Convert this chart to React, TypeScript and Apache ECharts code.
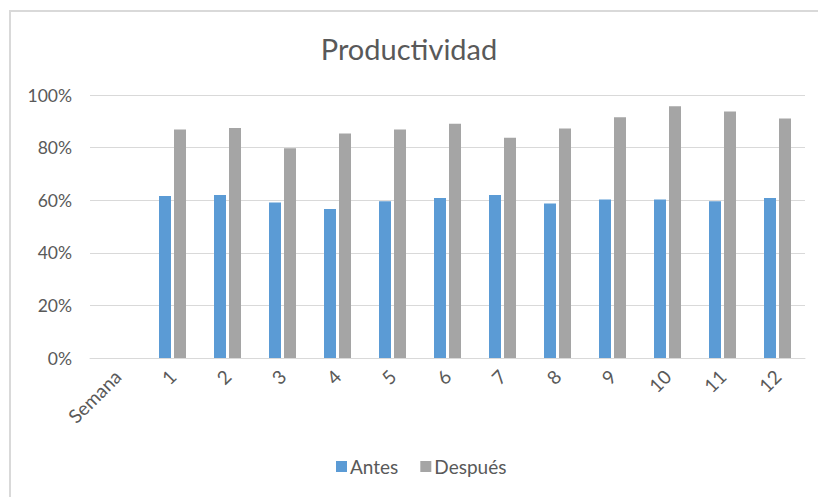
import React, { useEffect, useRef } from "react";
import * as echarts from "echarts";

const categories = ["Semana", "1", "2", "3", "4", "5", "6", "7", "8", "9", "10", "11", "12"];
const antes = [null, 61.6, 62.0, 59.1, 56.7, 59.6, 60.8, 62.0, 58.7, 60.3, 60.3, 59.6, 60.8];
const despues = [null, 86.9, 87.5, 79.8, 85.4, 86.9, 89.1, 83.7, 87.3, 91.5, 95.7, 93.7, 91.1];
const seriesNames = ["Antes", "Después"];

export default function App() {
  const ref = useRef<HTMLDivElement>(null);
  useEffect(() => {
    if (!ref.current) return;
    const chart = echarts.init(ref.current, undefined, { renderer: "svg" });
    const font = "Lato, 'Open Sans', sans-serif";
    chart.setOption({
      animation: false,
      backgroundColor: "#ffffff",
      title: {
        text: "Productividad",
        left: "center",
        top: 29,
        textStyle: { fontFamily: font, fontSize: 29, fontWeight: "normal", color: "#595959" },
      },
      graphic: [
        {
          type: "rect",
          shape: { x: 10, y: 11, width: 830, height: 520 },
          style: { fill: "none", stroke: "#d9d9d9", lineWidth: 2 },
          silent: true,
        },
      ],
      legend: {
        bottom: 16,
        left: 331,
        itemWidth: 11,
        itemHeight: 11,
        itemGap: 22,
        icon: "rect",
        textStyle: { fontFamily: font, fontSize: 19, color: "#595959", padding: [0, 0, 0, -2] },
        data: seriesNames,
      },
      grid: { left: 90, right: 13, top: 95, bottom: 139 },
      xAxis: {
        type: "category",
        data: categories,
        axisLine: { lineStyle: { color: "#d9d9d9" } },
        axisTick: { show: false },
        axisLabel: {
          rotate: 45,
          interval: 0,
          margin: 15,
          fontFamily: font,
          fontSize: 19,
          color: "#595959",
        },
      },
      yAxis: {
        type: "value",
        min: 0,
        max: 100,
        interval: 20,
        axisLine: { show: false },
        axisTick: { show: false },
        splitLine: { lineStyle: { color: "#d9d9d9" } },
        axisLabel: {
          formatter: "{value}%",
          margin: 18,
          fontFamily: font,
          fontSize: 17.5,
          color: "#595959",
        },
      },
      series: [
        {
          name: seriesNames[0],
          type: "bar",
          data: antes,
          barWidth: 12,
          barGap: "25%",
          itemStyle: { color: "#5b9bd5" },
        },
        {
          name: seriesNames[1],
          type: "bar",
          data: despues,
          barWidth: 12,
          itemStyle: { color: "#a5a5a5" },
        },
      ],
    });
    return () => chart.dispose();
  }, []);
  return (
    <div
      ref={ref}
      style={{ position: "fixed", left: 0, top: 0, width: 818, height: 497 }}
    />
  );
}
